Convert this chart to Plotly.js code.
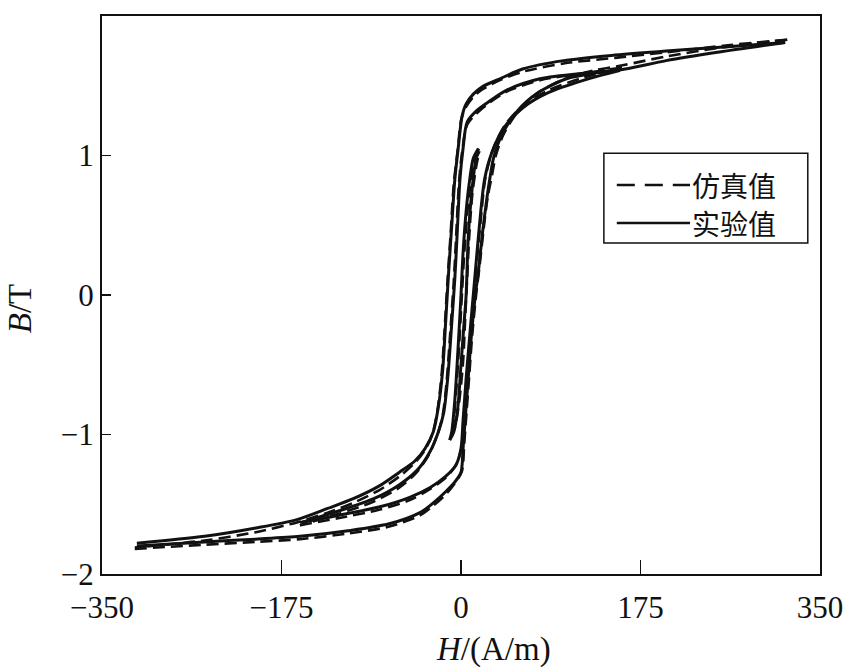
<!DOCTYPE html>
<html>
<head>
<meta charset="utf-8">
<script src="https://cdn.plot.ly/plotly-3.0.1.min.js"></script>
<style>html,body{margin:0;padding:0;background:#fff;}#chart{width:850px;height:667px;}</style>
</head>
<body>
<div id="chart"></div>
<script>
// ---- Axis ticks ----
const xTicks = [-350, -175, 0, 175, 350];
const yTicks = [-2, -1, 0, 1, 2];
const legendNames = ['仿真值', '实验值'];

// ---- Experimental (实验值, solid) ----
const expMajorDescH = [316, 260, 200, 150, 100, 60, 38, 20, 12, 5, 1, -2, -6, -9, -12, -15, -18, -22, -27, -35, -45, -60, -80, -105, -130, -160, -200, -250, -316];
const expMajorDescB = [1.81, 1.78, 1.75, 1.72, 1.68, 1.62, 1.55, 1.49, 1.44, 1.37, 1.28, 1.10, 0.83, 0.50, 0.17, -0.20, -0.55, -0.80, -0.98, -1.10, -1.19, -1.27, -1.37, -1.46, -1.53, -1.61, -1.67, -1.73, -1.78];
const expMajorAscH = [-316, -250, -200, -157, -110, -70, -40, -27, -15, -6, 0, 2, 4, 7, 10, 14, 17, 21, 25, 28, 32, 40, 55, 75, 103, 130, 160, 200, 250, 316];
const expMajorAscB = [-1.80, -1.77, -1.75, -1.73, -1.69, -1.64, -1.56, -1.49, -1.41, -1.34, -1.27, -1.10, -0.90, -0.60, -0.30, 0.00, 0.17, 0.45, 0.68, 0.83, 0.99, 1.15, 1.32, 1.45, 1.55, 1.59, 1.62, 1.68, 1.74, 1.81];
const expMidDescH = [155, 120, 77, 45, 28, 15, 6, 2, -1, -4, -6, -9, -13, -17, -22, -30, -42, -60, -85, -120, -155];
const expMidDescB = [1.61, 1.59, 1.55, 1.47, 1.39, 1.32, 1.24, 1.05, 0.83, 0.40, 0.12, -0.20, -0.60, -0.85, -0.98, -1.12, -1.25, -1.36, -1.46, -1.55, -1.63];
const expMidAscH = [-157, -120, -80, -50, -30, -15, -5, 0, 2, 5, 9, 14, 18, 23, 30, 42, 60, 85, 120, 155];
const expMidAscB = [-1.63, -1.58, -1.52, -1.45, -1.38, -1.30, -1.22, -1.10, -0.90, -0.60, -0.25, 0.17, 0.50, 0.83, 1.02, 1.20, 1.34, 1.45, 1.54, 1.61];
const expMinorDescH = [17, 12, 8, 5, 2, 0, -3, -6, -9, -11];
const expMinorDescB = [1.05, 0.98, 0.80, 0.60, 0.30, 0.00, -0.40, -0.75, -0.98, -1.04];
const expMinorAscH = [-11, -7, -3, 0, 3, 5, 7, 10, 14, 17];
const expMinorAscB = [-1.04, -0.98, -0.80, -0.50, -0.20, 0.00, 0.40, 0.70, 0.95, 1.05];

// ---- Simulated (仿真值, dashed) ----
const simMajorDescH = [318, 260, 200, 150, 100, 60, 38, 20, 12, 5, 0, -3, -7, -10, -13, -16, -19, -23, -28, -36, -46, -60, -80, -105, -130, -160, -200, -250, -318];
const simMajorDescB = [1.83, 1.79, 1.74, 1.70, 1.66, 1.60, 1.54, 1.47, 1.42, 1.35, 1.25, 1.05, 0.80, 0.45, 0.12, -0.25, -0.58, -0.83, -1.00, -1.12, -1.21, -1.30, -1.40, -1.49, -1.56, -1.63, -1.70, -1.76, -1.81];
const simMajorAscH = [-318, -250, -200, -157, -110, -70, -40, -27, -15, -6, 1, 3, 5, 8, 11, 15, 18, 22, 26, 30, 34, 42, 57, 77, 105, 130, 160, 200, 250, 318];
const simMajorAscB = [-1.82, -1.79, -1.77, -1.75, -1.71, -1.66, -1.58, -1.51, -1.43, -1.35, -1.26, -1.08, -0.88, -0.58, -0.28, 0.02, 0.20, 0.47, 0.70, 0.85, 1.00, 1.16, 1.33, 1.46, 1.56, 1.61, 1.65, 1.71, 1.77, 1.83];
const simMidDescH = [157, 120, 77, 45, 28, 15, 6, 1, -2, -5, -7, -10, -14, -18, -23, -31, -43, -60, -85, -120, -157];
const simMidDescB = [1.63, 1.59, 1.54, 1.46, 1.38, 1.30, 1.22, 1.02, 0.80, 0.38, 0.10, -0.22, -0.62, -0.87, -1.00, -1.14, -1.27, -1.38, -1.48, -1.57, -1.65];
const simMidAscH = [-157, -120, -80, -50, -30, -15, -5, 1, 3, 6, 10, 15, 19, 24, 31, 43, 61, 86, 120, 157];
const simMidAscB = [-1.65, -1.60, -1.54, -1.47, -1.39, -1.31, -1.22, -1.08, -0.88, -0.58, -0.22, 0.20, 0.52, 0.85, 1.04, 1.22, 1.36, 1.47, 1.56, 1.63];
const simMinorDescH = [18, 13, 9, 6, 3, 1, -2, -5, -8, -10];
const simMinorDescB = [1.03, 0.95, 0.78, 0.58, 0.28, 0.02, -0.38, -0.72, -0.95, -1.02];
const simMinorAscH = [-10, -6, -2, 2, 4, 6, 8, 11, 15, 18];
const simMinorAscB = [-1.02, -0.95, -0.78, -0.48, -0.18, 0.12, 0.42, 0.72, 0.93, 1.03];

const expBranches = [
  [expMajorDescH, expMajorDescB], [expMajorAscH, expMajorAscB],
  [expMidDescH, expMidDescB], [expMidAscH, expMidAscB],
  [expMinorDescH, expMinorDescB], [expMinorAscH, expMinorAscB]
];
const simBranches = [
  [simMajorDescH, simMajorDescB], [simMajorAscH, simMajorAscB],
  [simMidDescH, simMidDescB], [simMidAscH, simMidAscB],
  [simMinorDescH, simMinorDescB], [simMinorAscH, simMinorAscB]
];

const traces = [];
expBranches.forEach(function (b) {
  traces.push({
    x: b[0], y: b[1], type: 'scatter', mode: 'lines',
    name: legendNames[1], legendgroup: 'exp', showlegend: false,
    line: { color: '#111', width: 3, shape: 'spline', smoothing: 0.8 },
    hoverinfo: 'skip'
  });
});
simBranches.forEach(function (b) {
  traces.push({
    x: b[0], y: b[1], type: 'scatter', mode: 'lines',
    name: legendNames[0], legendgroup: 'sim', showlegend: false,
    line: { color: '#111', width: 2.6, dash: '12px,6px', shape: 'spline', smoothing: 0.8 },
    hoverinfo: 'skip'
  });
});

const serif = '"Liberation Serif", "Times New Roman", serif';
const cjk = '"Noto Sans CJK SC", sans-serif';

const layout = {
  width: 850, height: 667,
  margin: { l: 102, r: 30, t: 16, b: 93 },
  paper_bgcolor: '#fff', plot_bgcolor: '#fff',
  showlegend: false,
  xaxis: {
    range: [-350, 350], tickvals: xTicks, ticktext: xTicks.map(v => v < 0 ? '\u2212' + Math.abs(v) : String(v)),
    ticks: 'inside', ticklen: 14, tickwidth: 1.5, tickcolor: '#111',
    showline: true, linecolor: '#111', linewidth: 2, mirror: true,
    showgrid: false, zeroline: false, ticklabelstandoff: 5,
    tickfont: { family: serif, size: 31, color: '#111' }
  },
  yaxis: {
    range: [-2, 2], tickvals: yTicks, ticktext: yTicks.map(v => v < 0 ? '\u2212' + Math.abs(v) : String(v)),
    ticks: 'inside', ticklen: 9, tickwidth: 1.5, tickcolor: '#111',
    showline: true, linecolor: '#111', linewidth: 2, mirror: true,
    showgrid: false, zeroline: false,
    tickfont: { family: serif, size: 31, color: '#111' }
  },
  shapes: [
    { type: 'rect', xref: 'paper', yref: 'paper', x0: 0.699, x1: 0.983, y0: 0.593, y1: 0.754,
      line: { color: '#111', width: 1.5 }, fillcolor: '#fff', layer: 'above' },
    { type: 'line', xref: 'paper', yref: 'paper', x0: 0.717, x1: 0.819, y0: 0.6971, y1: 0.6971,
      line: { color: '#111', width: 2.6, dash: '18px,10px' }, layer: 'above' },
    { type: 'line', xref: 'paper', yref: 'paper', x0: 0.717, x1: 0.819, y0: 0.6290, y1: 0.6290,
      line: { color: '#111', width: 2.6 }, layer: 'above' }
  ],
  annotations: [
    { xref: 'paper', yref: 'paper', x: 0.82, y: 0.6971, xanchor: 'left', yanchor: 'middle', borderpad: 0,
      text: legendNames[0], showarrow: false, font: { family: cjk, size: 28, color: '#111' } },
    { xref: 'paper', yref: 'paper', x: 0.82, y: 0.6290, xanchor: 'left', yanchor: 'middle', borderpad: 0,
      text: legendNames[1], showarrow: false, font: { family: cjk, size: 28, color: '#111' } },
    { xref: 'paper', yref: 'paper', x: 0.545, y: -0.135, xanchor: 'center', yanchor: 'middle',
      text: '<i>H</i>/(A/m)', showarrow: false, font: { family: serif, size: 33, color: '#111' } },
    { xref: 'paper', yref: 'paper', x: -0.115, y: 0.477, xanchor: 'center', yanchor: 'middle',
      text: '<i>B</i>/T', textangle: -90, showarrow: false, font: { family: serif, size: 33, color: '#111' } }
  ]
};

Plotly.newPlot('chart', traces, layout, { displayModeBar: false, staticPlot: true });
</script>
</body>
</html>
